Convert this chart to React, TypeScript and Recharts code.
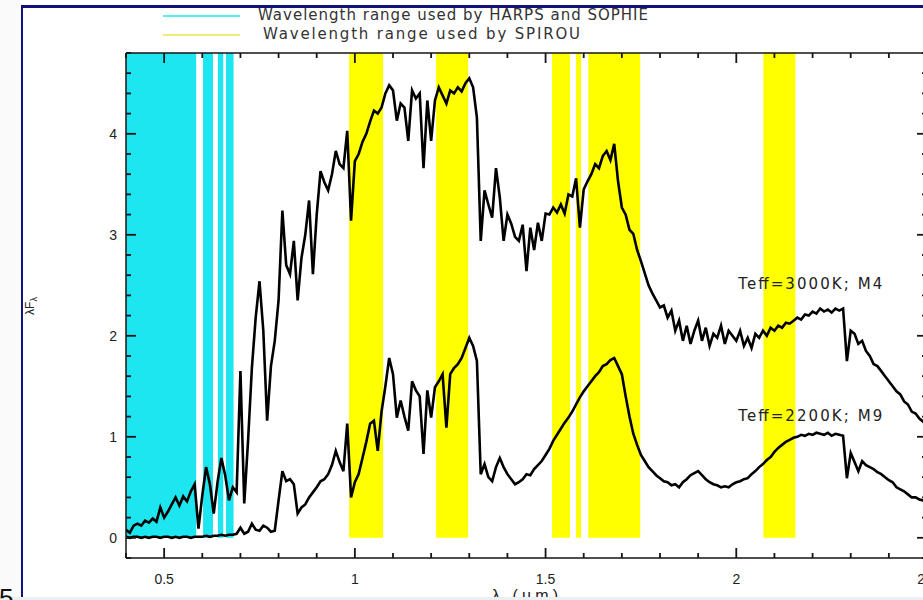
import React from "react";
import {
  ComposedChart,
  Line,
  XAxis,
  YAxis,
  ReferenceArea,
  ReferenceDot,
  ReferenceLine,
} from "recharts";

// wavelength grid (micron)
const wavelengths = [
  0.40, 0.41, 0.42, 0.43, 0.44, 0.45, 0.46, 0.47, 0.48, 0.49,
  0.50, 0.51, 0.52, 0.53, 0.54, 0.55, 0.56, 0.57, 0.58, 0.59,
  0.60, 0.61, 0.62, 0.63, 0.64, 0.65, 0.66, 0.67, 0.68, 0.69,
  0.70, 0.71, 0.72, 0.73, 0.74, 0.75, 0.76, 0.77, 0.78, 0.79,
  0.80, 0.81, 0.82, 0.83, 0.84, 0.85, 0.86, 0.87, 0.88, 0.89,
  0.90, 0.91, 0.92, 0.93, 0.94, 0.95, 0.96, 0.97, 0.98, 0.99,
  1.00, 1.01, 1.02, 1.03, 1.04, 1.05, 1.06, 1.07, 1.08, 1.09,
  1.10, 1.11, 1.12, 1.13, 1.14, 1.15, 1.16, 1.17, 1.18, 1.19,
  1.20, 1.21, 1.22, 1.23, 1.24, 1.25, 1.26, 1.27, 1.28, 1.29,
  1.30, 1.31, 1.32, 1.33, 1.34, 1.35, 1.36, 1.37, 1.38, 1.39,
  1.40, 1.41, 1.42, 1.43, 1.44, 1.45, 1.46, 1.47, 1.48, 1.49,
  1.50, 1.51, 1.52, 1.53, 1.54, 1.55, 1.56, 1.57, 1.58, 1.59,
  1.60, 1.61, 1.62, 1.63, 1.64, 1.65, 1.66, 1.67, 1.68, 1.69,
  1.70, 1.71, 1.72, 1.73, 1.74, 1.75, 1.76, 1.77, 1.78, 1.79,
  1.80, 1.81, 1.82, 1.83, 1.84, 1.85, 1.86, 1.87, 1.88, 1.89,
  1.90, 1.91, 1.92, 1.93, 1.94, 1.95, 1.96, 1.97, 1.98, 1.99,
  2.00, 2.01, 2.02, 2.03, 2.04, 2.05, 2.06, 2.07, 2.08, 2.09,
  2.10, 2.11, 2.12, 2.13, 2.14, 2.15, 2.16, 2.17, 2.18, 2.19,
  2.20, 2.21, 2.22, 2.23, 2.24, 2.25, 2.26, 2.27, 2.28, 2.29,
  2.30, 2.31, 2.32, 2.33, 2.34, 2.35, 2.36, 2.37, 2.38, 2.39,
  2.40, 2.41, 2.42, 2.43, 2.44, 2.45, 2.46, 2.47, 2.48, 2.49,
  2.50,
];

// Teff=3000K; M4
const fluxM4 = [
  0.08, 0.05, 0.12, 0.14, 0.12, 0.17, 0.15, 0.19, 0.16, 0.30,
  0.20, 0.26, 0.33, 0.40, 0.32, 0.41, 0.36, 0.46, 0.53, 0.09,
  0.42, 0.70, 0.53, 0.24, 0.55, 0.79, 0.62, 0.37, 0.50, 0.45,
  1.65, 0.34, 0.96, 1.68, 2.18, 2.54, 2.05, 1.16, 1.70, 1.95,
  2.35, 3.24, 2.70, 2.61, 2.94, 2.35, 2.77, 3.00, 3.34, 2.61,
  3.20, 3.63, 3.52, 3.44, 3.60, 3.83, 3.70, 3.66, 4.03, 3.14,
  3.73, 3.80, 3.92, 4.00, 4.12, 4.23, 4.20, 4.26, 4.40, 4.48,
  4.43, 4.13, 4.30, 4.26, 3.93, 4.43, 4.35, 4.40, 3.66, 4.33,
  3.93, 4.33, 4.46, 4.38, 4.30, 4.43, 4.40, 4.46, 4.42, 4.50,
  4.55, 4.46, 4.16, 2.94, 3.44, 3.30, 3.17, 3.66, 3.37, 2.94,
  3.20, 3.11, 2.98, 2.94, 3.10, 2.64, 3.07, 2.85, 3.12, 2.94,
  3.21, 3.20, 3.27, 3.22, 3.30, 3.21, 3.40, 3.38, 3.56, 3.07,
  3.45, 3.53, 3.60, 3.70, 3.66, 3.78, 3.83, 3.74, 3.90, 3.53,
  3.27, 3.20, 3.05, 3.01, 2.85, 2.74, 2.62, 2.50, 2.42, 2.35,
  2.28, 2.30, 2.18, 2.25, 2.05, 2.15, 1.95, 2.10, 1.92, 2.05,
  2.15, 1.95, 2.08, 1.90, 2.02, 1.98, 2.10, 1.92, 2.05, 2.00,
  1.95, 2.05, 1.90, 1.98, 1.88, 2.02, 1.98, 2.05, 2.00, 2.08,
  2.05, 2.10, 2.08, 2.13, 2.12, 2.15, 2.18, 2.16, 2.21, 2.20,
  2.24, 2.22, 2.27, 2.24, 2.26, 2.23, 2.27, 2.25, 2.27, 1.75,
  2.05, 2.02, 1.92, 1.95, 1.85, 1.80, 1.72, 1.70, 1.65, 1.60,
  1.55, 1.50, 1.45, 1.42, 1.35, 1.32, 1.25, 1.23, 1.18, 1.15,
  1.10,
];

// Teff=2200K; M9
const fluxM9 = [
  0.01, 0.00, 0.01, 0.01, 0.00, 0.01, 0.00, 0.01, 0.01, 0.00,
  0.01, 0.01, 0.00, 0.01, 0.00, 0.01, 0.01, 0.00, 0.01, 0.01,
  0.01, 0.02, 0.01, 0.02, 0.02, 0.03, 0.02, 0.03, 0.03, 0.04,
  0.10, 0.04, 0.06, 0.14, 0.08, 0.07, 0.12, 0.10, 0.06, 0.07,
  0.37, 0.66, 0.56, 0.58, 0.53, 0.24, 0.30, 0.33, 0.40, 0.45,
  0.50, 0.56, 0.58, 0.63, 0.72, 0.86, 0.75, 0.66, 1.13, 0.40,
  0.55, 0.63, 0.79, 0.95, 1.13, 1.16, 0.86, 1.25, 1.50, 1.78,
  1.62, 1.19, 1.36, 1.20, 1.06, 1.55, 1.46, 1.40, 0.83, 1.46,
  1.19, 1.49, 1.55, 1.62, 1.09, 1.62, 1.68, 1.72, 1.78, 1.88,
  1.98, 1.90, 1.75, 0.63, 0.73, 0.60, 0.56, 0.70, 0.79, 0.70,
  0.63, 0.58, 0.53, 0.55, 0.58, 0.63, 0.62, 0.68, 0.72, 0.76,
  0.82, 0.88, 0.96, 1.02, 1.08, 1.14, 1.19, 1.25, 1.32, 1.39,
  1.45, 1.50, 1.55, 1.60, 1.64, 1.70, 1.72, 1.76, 1.78, 1.70,
  1.62, 1.40, 1.20, 1.03, 0.92, 0.82, 0.76, 0.70, 0.66, 0.62,
  0.59, 0.56, 0.55, 0.52, 0.53, 0.50, 0.55, 0.58, 0.62, 0.64,
  0.66, 0.62, 0.58, 0.55, 0.53, 0.52, 0.50, 0.51, 0.50, 0.53,
  0.55, 0.56, 0.58, 0.59, 0.63, 0.66, 0.70, 0.73, 0.77, 0.80,
  0.85, 0.89, 0.92, 0.95, 0.97, 0.99, 1.00, 1.02, 1.01, 1.03,
  1.02, 1.04, 1.03, 1.02, 1.04, 1.01, 1.03, 1.02, 1.01, 0.59,
  0.84, 0.75, 0.66, 0.76, 0.72, 0.70, 0.68, 0.65, 0.63, 0.60,
  0.57, 0.55, 0.50, 0.48, 0.46, 0.43, 0.40, 0.40, 0.38, 0.37,
  0.35,
];

// wavelength windows
const harpsBands = [
  [0.4, 0.584],
  [0.602, 0.628],
  [0.641, 0.655],
  [0.662, 0.682],
];
const spirouBands = [
  [0.985, 1.074],
  [1.213, 1.297],
  [1.517, 1.564],
  [1.58, 1.593],
  [1.612, 1.748],
  [2.071, 2.155],
];

const xTicks = [
  0.4, 0.5, 0.6, 0.7, 0.8, 0.9, 1.0, 1.1, 1.2, 1.3, 1.4,
  1.5, 1.6, 1.7, 1.8, 1.9, 2.0, 2.1, 2.2, 2.3, 2.4, 2.5,
];
const xMajor = [0.5, 1, 1.5, 2, 2.5];
const yTicks = [
  -0.2, 0, 0.2, 0.4, 0.6, 0.8, 1, 1.2, 1.4, 1.6, 1.8, 2, 2.2,
  2.4, 2.6, 2.8, 3, 3.2, 3.4, 3.6, 3.8, 4, 4.2, 4.4, 4.6, 4.8,
];
const yMajor = [0, 1, 2, 3, 4];

const curveLabels = [
  { x: 2.194, y: 2.51, text: "Teff=3000K; M4" },
  { x: 2.194, y: 1.21, text: "Teff=2200K; M9" },
];

const data = wavelengths.map((wl, i) => ({ wl, m4: fluxM4[i], m9: fluxM9[i] }));

const CHART_W = 980;
const CHART_H = 600;
const MARGIN = { top: 53, left: 125, right: 52, bottom: 41 };
const PLOT_H = CHART_H - MARGIN.top - MARGIN.bottom - 1; // minus bottom axis height

const CYAN = "#1ee6f0";
const YELLOW = "#ffff00";
const AXIS = "#151515";
const TICK_W = 1.8;
const FONT = "'Liberation Sans', Arial, sans-serif";
const LABEL_FONT = "'DejaVu Sans', sans-serif";

const isMajor = (v: number, majors: number[]) =>
  majors.some((m) => Math.abs(m - v) < 1e-6);

// bottom axis tick, also mirrors the inward tick on the top frame edge
const BottomTick = (props: any) => {
  const { x, y, payload } = props;
  const major = isMajor(payload.value, xMajor);
  const len = major ? 10 : 5;
  return (
    <g>
      <line x1={x} y1={y} x2={x} y2={y - len} stroke={AXIS} strokeWidth={TICK_W} />
      <line x1={x} y1={y - PLOT_H} x2={x} y2={y - PLOT_H + len} stroke={AXIS} strokeWidth={TICK_W} />
      {major && (
        <text x={x} y={y + 26} textAnchor="middle" fontSize={14} fontFamily={FONT} fill="#222">
          {payload.value}
        </text>
      )}
    </g>
  );
};

const LeftTick = (props: any) => {
  const { x, y, payload } = props;
  const major = isMajor(payload.value, yMajor);
  return (
    <g>
      <line x1={x} y1={y} x2={x + (major ? 10 : 5)} y2={y} stroke={AXIS} strokeWidth={TICK_W} />
      {major && (
        <text x={x - 9} y={y + 5} textAnchor="end" fontSize={14} fontFamily={FONT} fill="#222">
          {payload.value}
        </text>
      )}
    </g>
  );
};

const RightTick = (props: any) => {
  const { x, y, payload } = props;
  const major = isMajor(payload.value, yMajor);
  return <line x1={x} y1={y} x2={x - (major ? 10 : 5)} y2={y} stroke={AXIS} strokeWidth={TICK_W} />;
};

export default function App() {
  return (
    <div
      style={{
        position: "absolute",
        left: 0,
        top: 0,
        width: 923,
        height: 600,
        overflow: "hidden",
        background: "#fff",
      }}
    >
      <ComposedChart
        width={CHART_W}
        height={CHART_H}
        data={data}
        margin={MARGIN}
        style={{ position: "absolute", left: 0, top: 0 }}
      >
        <XAxis
          dataKey="wl"
          type="number"
          domain={[0.4, 2.5]}
          ticks={xTicks}
          interval={0}
          allowDataOverflow
          height={1}
          tickSize={0}
          tickMargin={0}
          tickLine={false}
          axisLine={{ stroke: AXIS, strokeWidth: 1.5 }}
          tick={<BottomTick />}
        />
        <YAxis
          type="number"
          domain={[-0.2, 4.8]}
          ticks={yTicks}
          interval={0}
          allowDataOverflow
          width={1}
          tickSize={0}
          tickMargin={0}
          tickLine={false}
          axisLine={{ stroke: AXIS, strokeWidth: 1.5 }}
          tick={<LeftTick />}
        />
        <YAxis
          yAxisId="right"
          orientation="right"
          type="number"
          domain={[-0.2, 4.8]}
          ticks={yTicks}
          interval={0}
          allowDataOverflow
          width={1}
          tickSize={0}
          tickMargin={0}
          tickLine={false}
          axisLine={{ stroke: AXIS, strokeWidth: 1.5 }}
          tick={<RightTick />}
        />
        {harpsBands.map(([a, b], i) => (
          <ReferenceArea key={`h${i}`} x1={a} x2={b} y1={0} y2={4.8} fill={CYAN} fillOpacity={1} stroke="none" />
        ))}
        {spirouBands.map(([a, b], i) => (
          <ReferenceArea key={`s${i}`} x1={a} x2={b} y1={0} y2={4.8} fill={YELLOW} fillOpacity={1} stroke="none" />
        ))}
        <ReferenceLine y={4.8} stroke={AXIS} strokeWidth={1.5} />
        <Line
          dataKey="m4"
          type="linear"
          stroke="#000"
          strokeWidth={2.6}
          dot={false}
          isAnimationActive={false}
        />
        <Line
          dataKey="m9"
          type="linear"
          stroke="#000"
          strokeWidth={2.6}
          dot={false}
          isAnimationActive={false}
        />
        {curveLabels.map((l) => (
          <ReferenceDot
            key={l.text}
            x={l.x}
            y={l.y}
            r={0}
            shape={(p: any) => (
              <text
                x={p.cx}
                y={p.cy}
                textAnchor="middle"
                dominantBaseline="central"
                fontSize={15}
                fontFamily={LABEL_FONT}
                fill="#222"
                textLength={144}
                lengthAdjust="spacing"
              >
                {l.text}
              </text>
            )}
          />
        ))}
      </ComposedChart>

      <svg
        width={923}
        height={600}
        style={{ position: "absolute", left: 0, top: 0, pointerEvents: "none" }}
      >
        {/* legend */}
        <line x1={163} y1={16} x2={240} y2={16} stroke={CYAN} strokeWidth={2} opacity={0.75} />
        <text x={258} y={20} fontSize={15} fontFamily={LABEL_FONT} fill="#333" textLength={390} lengthAdjust="spacing">
          Wavelength range used by HARPS and SOPHIE
        </text>
        <line x1={163} y1={35} x2={240} y2={35} stroke="#f2e35a" strokeWidth={2} opacity={0.8} />
        <text x={263} y={39} fontSize={15} fontFamily={LABEL_FONT} fill="#333" textLength={317} lengthAdjust="spacing">
          Wavelength range used by SPIROU
        </text>

        {/* axis titles */}
        <text
          x={34}
          y={306}
          transform="rotate(-90 34 306)"
          textAnchor="middle"
          fontSize={12}
          fontFamily={FONT}
          fill="#222"
        >
          λF<tspan dy={3} fontSize={9}>λ</tspan>
        </text>
        <text x={525} y={601} textAnchor="middle" fontSize={16} fontFamily={FONT} fill="#222" textLength={66} lengthAdjust="spacing">
          λ (µm)
        </text>

        {/* slide frame */}
        <rect x={0} y={0} width={21} height={600} fill="#fafafa" />
        <rect x={21} y={5} width={902} height={3} fill="#12127a" />
        <rect x={21} y={5} width={2} height={595} fill="#12127a" />
        <rect x={0} y={597} width={923} height={3} fill="#eceff4" />
        <text x={-1} y={607} fontSize={26} fontFamily={FONT} fill="#111">
          5
        </text>
      </svg>
    </div>
  );
}
